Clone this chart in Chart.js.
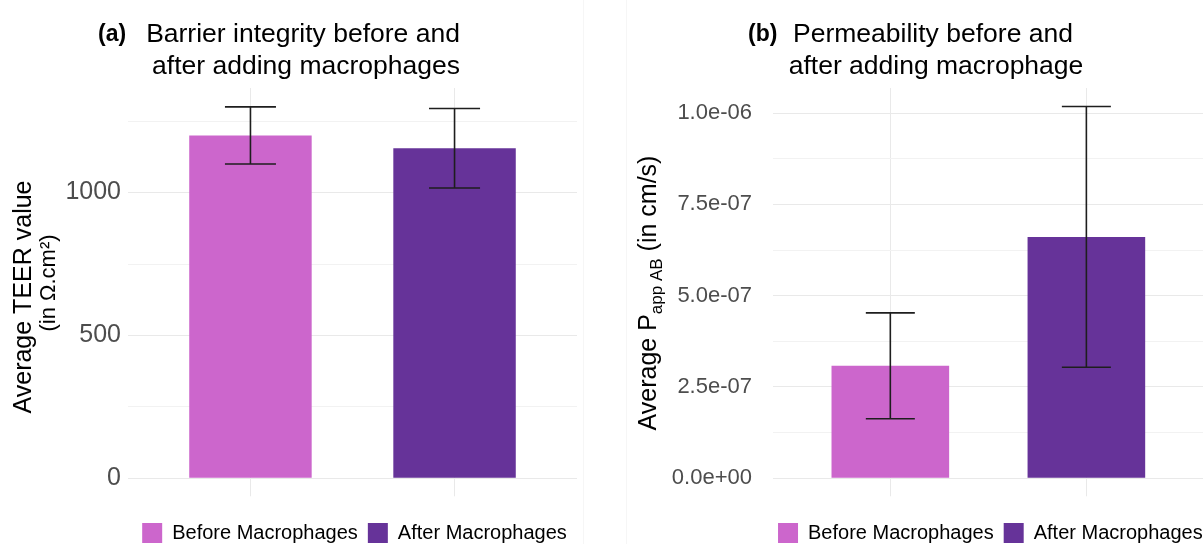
<!DOCTYPE html>
<html>
<head>
<meta charset="utf-8">
<script src="https://cdn.jsdelivr.net/npm/chart.js@4.4.1/dist/chart.umd.min.js"></script>
<style>
  html, body { margin: 0; padding: 0; background: #fff; overflow: hidden; width: 1203px; height: 544px; }
  .panel { position: absolute; top: 0; }
  #panelA { left: 0; }
  #panelB { left: 600px; }
  .seam { position: absolute; top: 0; width: 1px; height: 544px; background: #f6f6f6; }
</style>
</head>
<body>
<div class="seam" style="left:583px"></div>
<div class="seam" style="left:626px"></div>
<canvas id="panelA" class="panel" width="600" height="544"></canvas>
<canvas id="panelB" class="panel" width="620" height="544"></canvas>
<script>
// Groups shared by both panels
const categories = ['Before Macrophages', 'After Macrophages'];
const barColors = ['#CC66CC', '#663399'];

// (a) transepithelial electrical resistance, mean and error
const teerMean = [1200, 1155];
const teerErr = [100, 139];
const teerTicks = [0, 250, 500, 750, 1000, 1250];
const teerTickLabels = ['0', '', '500', '', '1000', ''];

// (b) apparent permeability A->B, mean and error
const pappMean = [3.08e-7, 6.61e-7];
const pappErr = [1.45e-7, 3.57e-7];
const pappTicks = [0, 1.25e-7, 2.5e-7, 3.75e-7, 5e-7, 6.25e-7, 7.5e-7, 8.75e-7, 1e-6];
const pappTickLabels = ['0.0e+00', '', '2.5e-07', '', '5.0e-07', '', '7.5e-07', '', '1.0e-06'];

const FONT = '"Liberation Sans", Arial, sans-serif';
const MAJOR = '#e9e9e9';
const MINOR = '#f2f2f2';

// Mean ± error whiskers drawn on top of the bars
const errorBars = {
  id: 'errorBars',
  afterDatasetsDraw(chart, args, opts) {
    const { ctx } = chart;
    const xs = chart.scales.x, ys = chart.scales.y;
    const ds = chart.data.datasets[0];
    ctx.save();
    ctx.strokeStyle = opts.color;
    ctx.lineWidth = opts.width;
    ds.data.forEach((pt, i) => {
      const e = opts.errors[i];
      const cx = xs.getPixelForValue(pt.x);
      const xl = xs.getPixelForValue(pt.x - opts.capHalf);
      const xr = xs.getPixelForValue(pt.x + opts.capHalf);
      const yt = ys.getPixelForValue(pt.y + e);
      const yb = ys.getPixelForValue(pt.y - e);
      ctx.beginPath();
      ctx.moveTo(cx, yt); ctx.lineTo(cx, yb);
      ctx.moveTo(xl, yt); ctx.lineTo(xr, yt);
      ctx.moveTo(xl, yb); ctx.lineTo(xr, yb);
      ctx.stroke();
    });
    ctx.restore();
  }
};

// Centre the single-row legend under the plot panel and drop it to the bottom edge
const legendPlacement = {
  id: 'legendPlacement',
  afterLayout(chart, args, o) {
    const lg = chart.legend, ca = chart.chartArea;
    if (!lg) return;
    const mid = (ca.left + ca.right) / 2 + o.dx;
    lg.left = mid - o.half;
    lg.right = mid + o.half;
    lg.width = lg.right - lg.left;
    lg.top += o.dy;
    lg.bottom += o.dy;
  }
};

// Panel tag, two-line heading and the rotated y-axis title (with sub/superscripts)
const panelText = {
  id: 'panelText',
  afterDraw(chart, args, o) {
    const { ctx } = chart;
    ctx.save();
    ctx.fillStyle = '#000';
    ctx.textBaseline = 'alphabetic';
    ctx.textAlign = 'left';
    ctx.font = 'bold 23px ' + FONT;
    ctx.fillText(o.tag, o.tagX, o.tagY);
    ctx.font = '26.5px ' + FONT;
    ctx.textAlign = 'center';
    o.title.forEach((line, i) => ctx.fillText(line, o.titleX[i], o.titleY[i]));

    ctx.textAlign = 'left';
    o.yTitle.forEach(line => {
      let total = 0;
      line.segs.forEach(s => { ctx.font = s.size + 'px ' + FONT; total += ctx.measureText(s.text).width; });
      ctx.save();
      ctx.translate(line.x, line.cy);
      ctx.rotate(-Math.PI / 2);
      let pos = -total / 2;
      line.segs.forEach(s => {
        ctx.font = s.size + 'px ' + FONT;
        ctx.fillText(s.text, pos, s.dy || 0);
        pos += ctx.measureText(s.text).width;
      });
      ctx.restore();
    });
    ctx.restore();
  }
};

function buildPanel(canvasId, cfg) {
  const points = categories.map((c, i) => ({ x: i, y: cfg.mean[i] }));
  return new Chart(document.getElementById(canvasId), {
    type: 'bar',
    data: {
      datasets: [{
        data: points,
        backgroundColor: barColors,
        borderWidth: 0,
        categoryPercentage: 1,
        barPercentage: 0.6
      }]
    },
    plugins: [legendPlacement, errorBars, panelText],
    options: {
      responsive: false,
      animation: false,
      events: [],
      layout: { padding: { left: 0, top: 88, right: cfg.padRight, bottom: 7.7 } },
      scales: {
        x: {
          type: 'linear', min: -0.6, max: 1.6, offset: false,
          afterBuildTicks: s => { s.ticks = categories.map((c, i) => ({ value: i })); },
          ticks: { display: false },
          grid: { offset: false, color: MAJOR, lineWidth: 1, drawTicks: true, tickLength: 18, tickColor: MAJOR },
          border: { display: false }
        },
        y: {
          min: 0, max: cfg.yMax,
          afterBuildTicks: s => { s.ticks = cfg.ticks.map(v => ({ value: v })); },
          afterFit: s => { s.width = cfg.axisWidth; },
          ticks: {
            callback: (v, i) => cfg.tickLabels[i],
            color: '#4d4d4d',
            font: { family: FONT, size: cfg.tickSize },
            padding: cfg.tickPad
          },
          grid: {
            color: c => (cfg.tickLabels[c.index] ? MAJOR : MINOR),
            lineWidth: 1,
            drawTicks: false
          },
          border: { display: false }
        }
      },
      plugins: {
        tooltip: { enabled: false },
        title: { display: false },
        legend: {
          position: 'bottom',
          fullSize: true,
          onClick: null,
          labels: {
            boxWidth: 20, boxHeight: 20, padding: 10,
            color: '#1a1a1a',
            font: { family: FONT, size: 20 },
            generateLabels: () => categories.map((c, i) => ({
              text: c, fillStyle: barColors[i], strokeStyle: barColors[i], lineWidth: 0, hidden: false, index: i
            }))
          }
        },
        legendPlacement: { dx: 2, dy: 16.7, half: 290 },
        errorBars: { errors: cfg.err, capHalf: 0.125, color: '#1e1e1e', width: 1.6 },
        panelText: cfg.text
      }
    }
  });
}

buildPanel('panelA', {
  mean: teerMean, err: teerErr, ticks: teerTicks, tickLabels: teerTickLabels,
  yMax: 1366, axisWidth: 128, tickPad: 7, tickSize: 25, padRight: 23,
  text: {
    tag: '(a)', tagX: 98, tagY: 41,
    title: ['Barrier integrity before and', 'after adding macrophages'],
    titleX: [303, 306], titleY: [42, 74],
    yTitle: [
      { x: 31, cy: 297, segs: [{ text: 'Average TEER value', size: 25 }] },
      { x: 55, cy: 283, segs: [{ text: '(in Ω.cm²)', size: 22 }] }
    ]
  }
});

buildPanel('panelB', {
  mean: pappMean, err: pappErr, ticks: pappTicks, tickLabels: pappTickLabels,
  yMax: 1.0687e-6, axisWidth: 172.7, tickPad: 20.7, tickSize: 22, padRight: 16,
  text: {
    tag: '(b)', tagX: 148, tagY: 41,
    title: ['Permeability before and', 'after adding macrophage'],
    titleX: [333, 336], titleY: [42, 74],
    yTitle: [
      { x: 56, cy: 293, segs: [
        { text: 'Average P', size: 25 },
        { text: 'app AB', size: 17, dy: 6 },
        { text: ' (in cm/s)', size: 25 }
      ] }
    ]
  }
});
</script>
</body>
</html>
